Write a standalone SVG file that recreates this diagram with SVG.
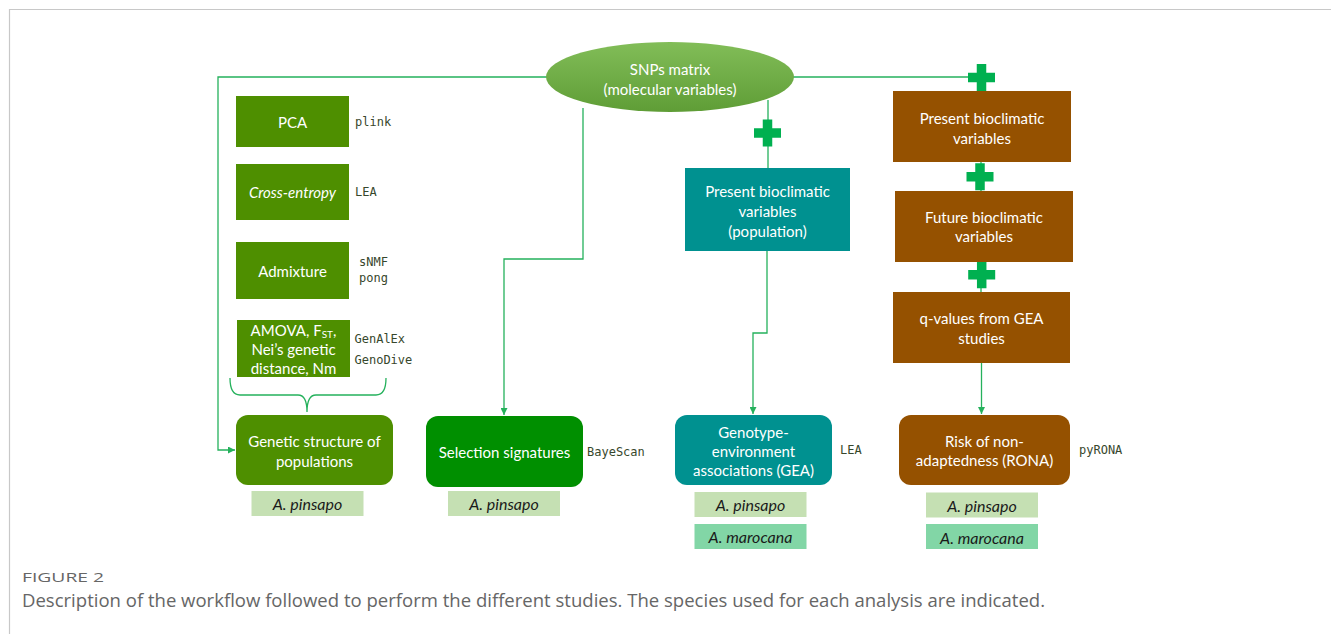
<svg xmlns="http://www.w3.org/2000/svg" width="1331" height="634" viewBox="0 0 1331 634">
<defs>
<linearGradient id="eg" x1="0" y1="0" x2="0" y2="1">
<stop offset="0" stop-color="#82bd58"/>
<stop offset="1" stop-color="#5f9d36"/>
</linearGradient>
<marker id="arr" viewBox="0 0 8 8" refX="8" refY="4" markerWidth="7" markerHeight="7" markerUnits="userSpaceOnUse" orient="auto">
<path d="M0,0 L8,4 L0,8 z" fill="#25b15c"/>
</marker>
<path id="plus" d="M-4.75,-13.5 H4.75 V-4.75 H13.5 V4.75 H4.75 V13.5 H-4.75 V4.75 H-13.5 V-4.75 H-4.75 Z"/>
</defs>
<style>
.t{font-family:Lato,"Open Sans",sans-serif;font-size:15px;fill:#fff;text-anchor:middle;dominant-baseline:central}
.m{font-family:"DejaVu Sans Mono","Liberation Mono",monospace;font-size:12px;fill:#37472c;dominant-baseline:central}
.sp{font-family:Lato,"Open Sans",sans-serif;font-size:16px;font-style:italic;fill:#1a1a1a;text-anchor:middle;dominant-baseline:central}
.og{fill:#4e8f00}
.gr{fill:#008f00}
.tl{fill:#009190}
.br{fill:#955100}
.p1{fill:#c5e0b3}
.p2{fill:#82d6a6}
.c{fill:none;stroke:#25b15c;stroke-width:1.3}
.pl{fill:#00b050}
.cap{font-family:"Open Sans",sans-serif;fill:#666}
</style>
<rect width="1331" height="634" fill="#fff"/>
<path d="M9.5,634 V9.5 H1331" fill="none" stroke="#c8c8c8" stroke-width="1.2"/>

<g id="connectors">
<path class="c" d="M548,77 H218 V450 H235" marker-end="url(#arr)"/>
<path class="c" d="M583,108 V259 H504 V415" marker-end="url(#arr)"/>
<path class="c" d="M792,77 H975"/>
<path class="c" d="M768,100 V168"/>
<path class="c" d="M981,90 V292"/>
<path class="c" d="M767,251 V333 H753 V414" marker-end="url(#arr)"/>
<path class="c" d="M981.5,363 V414" marker-end="url(#arr)"/>
<path d="M230,378 Q230,395 240,395 H298 Q307,395 307,412 Q307,395 316,395 H376 Q386,395 386,378" fill="none" stroke="#25b15c" stroke-width="1.3"/>
<use href="#plus" class="pl" x="981.5" y="77.5"/>
<use href="#plus" class="pl" x="980" y="176.7"/>
<use href="#plus" class="pl" x="981.7" y="274.7"/>
<use href="#plus" class="pl" x="767.5" y="133"/>
</g>

<g id="snps">
<ellipse cx="670" cy="77" rx="124" ry="35" fill="url(#eg)"/>
<text class="t" x="670" y="68.5">SNPs matrix</text>
<text class="t" x="670" y="88.5">(molecular variables)</text>
</g>

<g id="pca">
<rect class="og" x="236" y="96" width="113" height="51"/>
<text class="t" x="292.5" y="121.5">PCA</text>
<text class="m" x="355" y="121.5">plink</text>
</g>
<g id="crossentropy">
<rect class="og" x="236" y="164" width="113" height="56"/>
<text class="t" x="292.5" y="192" font-style="italic">Cross-entropy</text>
<text class="m" x="355" y="192">LEA</text>
</g>
<g id="admixture">
<rect class="og" x="236" y="242" width="113" height="57"/>
<text class="t" x="292.5" y="270.5">Admixture</text>
<text class="m" x="359" y="262">sNMF</text>
<text class="m" x="359" y="277.5">pong</text>
</g>
<g id="amova">
<rect class="og" x="237" y="320" width="113" height="57"/>
<text class="t" x="293.5" y="330">AMOVA, F<tspan font-size="10" dy="4">ST</tspan><tspan dy="-4">,</tspan></text>
<text class="t" x="293.5" y="349">Nei’s genetic</text>
<text class="t" x="293.5" y="368">distance, Nm</text>
<text class="m" x="354.5" y="338.5">GenAlEx</text>
<text class="m" x="354.5" y="360">GenoDive</text>
</g>

<g id="genetic">
<rect class="og" x="236" y="415" width="157" height="70" rx="12"/>
<text class="t" x="314.5" y="441">Genetic structure of</text>
<text class="t" x="314.5" y="460.5">populations</text>
<rect class="p1" x="251.5" y="491" width="112" height="25"/>
<text class="sp" x="307.5" y="503.5">A. pinsapo</text>
</g>

<g id="selection">
<rect class="gr" x="426" y="416" width="157" height="71" rx="12"/>
<text class="t" x="504.5" y="452">Selection signatures</text>
<text class="m" x="587" y="451.5">BayeScan</text>
<rect class="p1" x="448" y="491" width="112" height="25"/>
<text class="sp" x="504" y="503.5">A. pinsapo</text>
</g>

<g id="presentpop">
<rect class="tl" x="685" y="168" width="165" height="83"/>
<text class="t" x="767.5" y="190.5">Present bioclimatic</text>
<text class="t" x="767.5" y="210.5">variables</text>
<text class="t" x="767.5" y="230.5">(population)</text>
</g>

<g id="gea">
<rect class="tl" x="675" y="415" width="157" height="70" rx="12"/>
<text class="t" x="753.5" y="431.5">Genotype-</text>
<text class="t" x="753.5" y="450.5">environment</text>
<text class="t" x="753.5" y="469.5">associations (GEA)</text>
<text class="m" x="840" y="450">LEA</text>
<rect class="p1" x="694.5" y="492" width="112" height="25"/>
<text class="sp" x="750.5" y="504.5">A. pinsapo</text>
<rect class="p2" x="694.5" y="524" width="112" height="25"/>
<text class="sp" x="750.5" y="536.5">A. marocana</text>
</g>

<g id="presentclim">
<rect class="br" x="893" y="91" width="178" height="71"/>
<text class="t" x="982" y="118">Present bioclimatic</text>
<text class="t" x="982" y="137.5">variables</text>
</g>
<g id="futureclim">
<rect class="br" x="895" y="191" width="178" height="71"/>
<text class="t" x="984" y="216.5">Future bioclimatic</text>
<text class="t" x="984" y="236">variables</text>
</g>
<g id="qvalues">
<rect class="br" x="893" y="292" width="177" height="71"/>
<text class="t" x="981.5" y="318">q-values from GEA</text>
<text class="t" x="981.5" y="337.5">studies</text>
</g>

<g id="rona">
<rect class="br" x="899" y="415" width="171" height="70" rx="12"/>
<text class="t" x="984.5" y="441">Risk of non-</text>
<text class="t" x="984.5" y="460">adaptedness (RONA)</text>
<text class="m" x="1079" y="450">pyRONA</text>
<rect class="p1" x="926" y="492.5" width="112" height="25"/>
<text class="sp" x="982" y="505">A. pinsapo</text>
<rect class="p2" x="926" y="524" width="112" height="25"/>
<text class="sp" x="982" y="537">A. marocana</text>
</g>

<g id="caption">
<text class="cap" x="22" y="582" font-size="13" textLength="82" lengthAdjust="spacingAndGlyphs">FIGURE 2</text>
<text class="cap" x="22" y="607" font-size="18" textLength="1023" lengthAdjust="spacingAndGlyphs">Description of the workflow followed to perform the different studies. The species used for each analysis are indicated.</text>
</g>
</svg>
